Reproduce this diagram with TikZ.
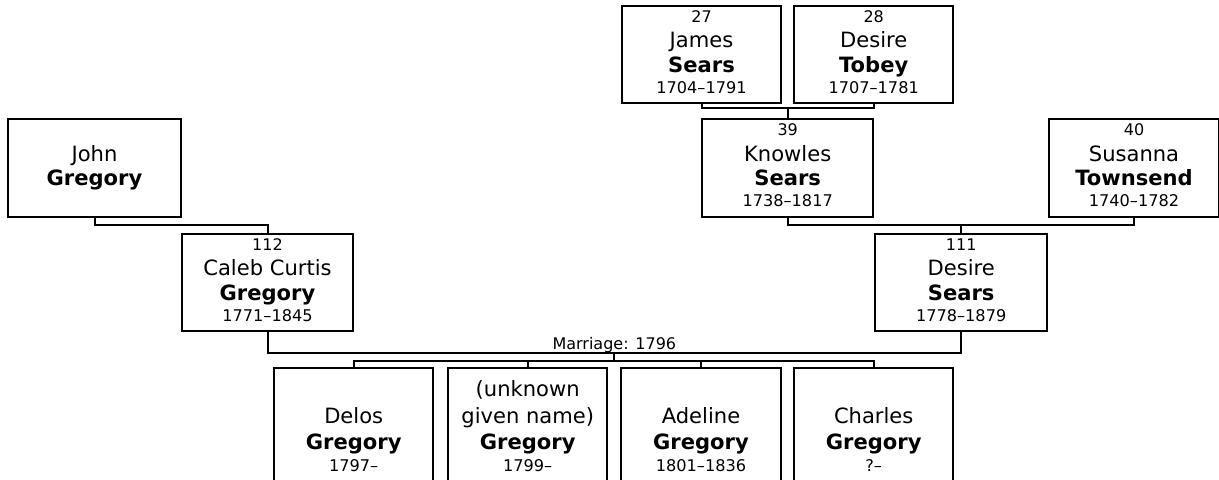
\documentclass[tikz,border=0pt]{standalone}
\usepackage{fontspec}
\setmainfont{DejaVu Sans}
\usetikzlibrary{calc}
\newcommand\person[9]{%
  \node[pbox,minimum width=#4*0.75pt,minimum height=#5*0.75pt] (#1) at (#2,{#3+#5/2}) {};
  \node[numtxt] (#1-n) at (#2,{#3+16.5}) {#6};
  \node[giventxt] (#1-g) at (#2,{#3+42}) {#7};
  \node[surtxt] (#1-s) at (#2,{#3+66.5}) {#8};
  \node[datetxt] (#1-d) at (#2,{#3+87.5}) {#9};}
\newcommand\child[6]{%
  \node[pbox,minimum width=159.5*0.75pt,minimum height=140*0.75pt] (#1) at (#2,{368.3+70}) {};
  \node[giventxt] (#1-g) at (#2,423.3) {#3};
  \node[surtxt] (#1-s) at (#2,449.5) {#4};
  \node[datetxt] (#1-d) at (#2,471) {#5};}
\begin{document}
\begin{tikzpicture}[x=0.75pt,y=-0.75pt,
  pbox/.style={draw=black,line width=1.5pt,fill=white,rectangle,inner sep=0pt,outer sep=0pt},
  conn/.style={draw=black,line width=1.5pt},
  numtxt/.style={anchor=base,inner sep=0pt,font=\fontsize{12}{14}\selectfont},
  datetxt/.style={anchor=base,inner sep=0pt,font=\fontsize{12.1}{14}\selectfont},
  giventxt/.style={anchor=base,inner sep=0pt,font=\fontsize{15.8}{18}\selectfont},
  surtxt/.style={anchor=base,inner sep=0pt,font=\fontsize{15.8}{18}\selectfont\bfseries},
  marrtxt/.style={anchor=base,inner sep=0pt,font=\fontsize{12}{14}\selectfont}]
\useasboundingbox (0,0) rectangle (1219,479);
\clip (0,0) rectangle (1219,479);
% top row
\person{p27}{701.5}{5.7}{159}{97.3}{27}{James}{Sears}{1704\textendash1791}
\person{p28}{873.7}{5.7}{159}{97.3}{28}{Desire}{Tobey}{1707\textendash1781}
% second row
\node[pbox,minimum width=172.4*0.75pt,minimum height=97.4*0.75pt] (pjg) at (94.5,{119.3+48.7}) {};
\node[giventxt] (pjg-g) at (94.5,161.7) {John};
\node[surtxt] (pjg-s) at (94.5,185.5) {Gregory};
\person{p39}{787.7}{119.3}{171.3}{97.5}{39}{Knowles}{Sears}{1738\textendash1817}
\person{p40}{1134}{119.3}{170}{97.5}{40}{Susanna}{Townsend}{1740\textendash1782}
% third row
\person{p112}{267.5}{233.7}{171.6}{97}{112}{Caleb Curtis}{Gregory}{1771\textendash1845}
\person{p111}{961.2}{233.7}{172.3}{97}{111}{Desire}{Sears}{1778\textendash1879}
% children
\child{c1}{353.7}{Delos}{Gregory}{1797\textendash}{}
\node[pbox,minimum width=159.5*0.75pt,minimum height=140*0.75pt] (c2) at (527.7,{368.3+70}) {};
\node[giventxt] (c2-u) at (527.7,396.7) {(unknown};
\node[giventxt] (c2-g) at (527.7,423.3) {given name)};
\node[surtxt] (c2-s) at (527.7,449.5) {Gregory};
\node[datetxt] (c2-d) at (527.7,471) {1799\textendash};
\child{c3}{701}{Adeline}{Gregory}{1801\textendash1836}{}
\child{c4}{873.7}{Charles}{Gregory}{?\textendash}{}
% connectors
\coordinate (j1) at ($(p39.north)+(0,-11.3)$);
\draw[conn] (p27.south) |- (j1) -| (p28.south);
\draw[conn] (j1) -- (p39.north);
\coordinate (j2) at ($(p112.north)+(0,-9)$);
\draw[conn] (pjg.south) |- (j2) -- (p112.north);
\coordinate (j3) at ($(p111.north)+(0,-9)$);
\draw[conn] (p39.south) |- (j3) -| (p40.south);
\draw[conn] (j3) -- (p111.north);
\coordinate (marr) at ($(p112.south)!0.5!(p111.south)+(0,22)$);
\draw[conn] (p112.south) |- (marr) -| (p111.south);
\node[marrtxt] (mlab) at ($(marr)+(0,-3.4)$) {Marriage: 1796};
\coordinate (bus) at ($(marr)+(0,8)$);
\draw[conn] (marr) -- (bus);
\draw[conn] (c1.north) |- (bus) -| (c4.north);
\draw[conn] (c2.north) -- (c2.north |- bus);
\draw[conn] (c3.north) -- (c3.north |- bus);
\end{tikzpicture}
\end{document}
